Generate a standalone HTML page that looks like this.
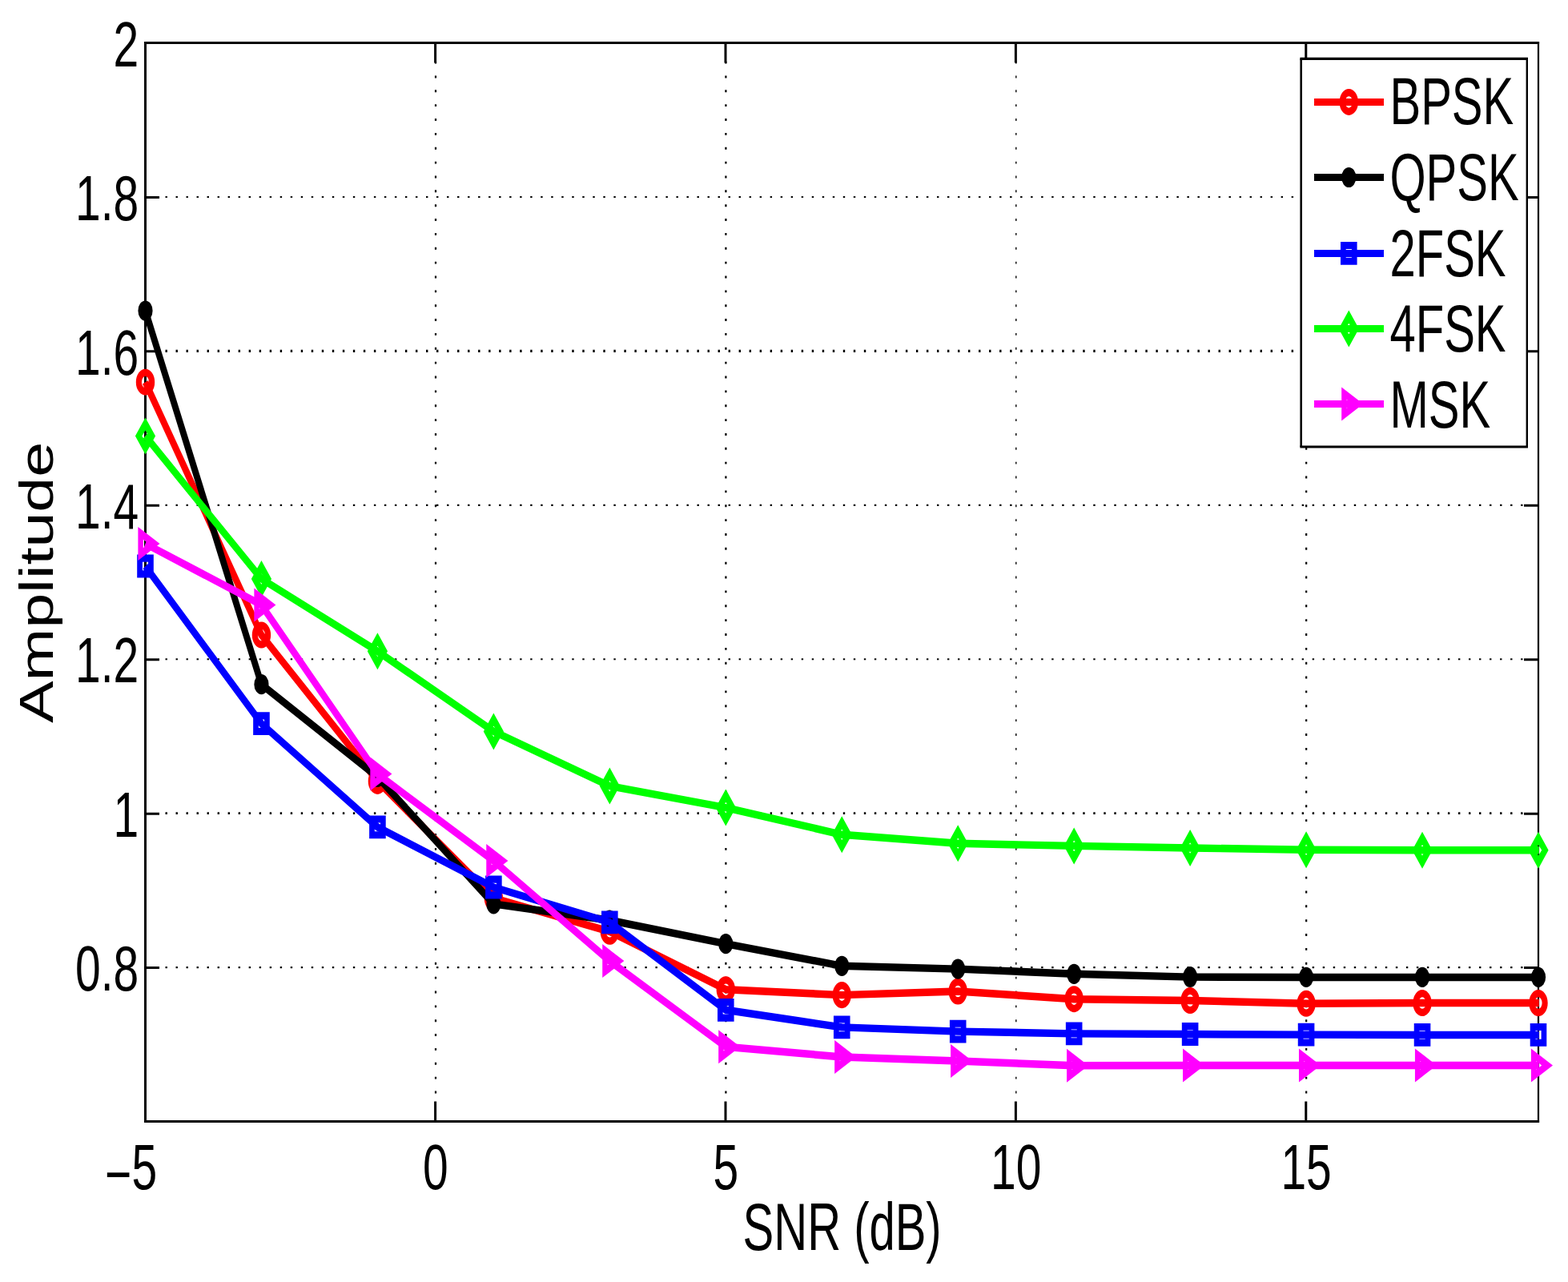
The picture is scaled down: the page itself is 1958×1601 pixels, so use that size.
<!DOCTYPE html>
<html lang="en">
<head>
<meta charset="utf-8">
<title>Amplitude vs SNR (dB)</title>
<style>
html,body{margin:0;padding:0;background:#fff;}
body{width:1958px;height:1601px;overflow:hidden;}
svg{display:block;}
text{font-family:"Liberation Sans",sans-serif;font-size:100px;fill:#000;}
</style>
</head>
<body>
<svg width="1958" height="1601" viewBox="0 0 1958 1601" role="img" aria-label="Amplitude versus SNR line chart">
<rect x="0" y="0" width="1958" height="1601" fill="#fff"/>
<g stroke="#000" fill="none">
<path d="M206.5 245.93H1904" stroke-width="2.1" stroke-dasharray="2.4 10.62"/>
<path d="M206.5 438.36H1904" stroke-width="3.2" stroke-dasharray="2.4 10.62"/>
<path d="M206.5 630.79H1904" stroke-width="2.2" stroke-dasharray="2.4 10.62"/>
<path d="M206.5 823.21H1904" stroke-width="2.1" stroke-dasharray="2.4 10.62"/>
<path d="M206.5 1015.64H1904" stroke-width="2.9" stroke-dasharray="2.4 10.62"/>
<path d="M206.5 1208.07H1904" stroke-width="2.3" stroke-dasharray="2.4 10.62"/>
<path d="M544 1365.45V73.5" stroke-width="2.2" stroke-dasharray="2.9 14.96"/>
<path d="M906.39 1365.45V73.5" stroke-width="2.2" stroke-dasharray="2.9 14.96"/>
<path d="M1268.79 1365.45V73.5" stroke-width="1.4" stroke-dasharray="2.9 14.96"/>
<path d="M1631.18 1365.45V73.5" stroke-width="2.2" stroke-dasharray="2.9 14.96"/>
</g>
<g stroke="#000" fill="none">
<path d="M180 53.5H1922.1" stroke-width="3"/>
<path d="M180 1400.5H1922.1" stroke-width="3"/>
<path d="M181.5 52V1402" stroke-width="3"/>
<path d="M1921 52V1402" stroke-width="2.2"/>
<path d="M181.5 246.43h17.5 M1921 246.43h-18 M181.5 438.86h17.5 M1921 438.86h-18 M181.5 631.29h17.5 M1921 631.29h-18 M181.5 823.71h17.5 M1921 823.71h-18 M181.5 1016.14h17.5 M1921 1016.14h-18 M181.5 1208.57h17.5 M1921 1208.57h-18" stroke-width="3"/>
<path d="M543.6 53.5v25 M543.6 1400.5v-25 M905.99 53.5v25 M905.99 1400.5v-25 M1268.39 53.5v25 M1268.39 1400.5v-25 M1630.78 53.5v25 M1630.78 1400.5v-25" stroke-width="3"/>
</g>
<g>
<text transform="matrix(0.57 0 0 0.8 173.3 82.7)" text-anchor="end">2</text>
<text transform="matrix(0.57 0 0 0.8 173.3 275.13)" text-anchor="end">1.8</text>
<text transform="matrix(0.57 0 0 0.8 173.3 467.56)" text-anchor="end">1.6</text>
<text transform="matrix(0.57 0 0 0.8 173.3 659.99)" text-anchor="end">1.4</text>
<text transform="matrix(0.57 0 0 0.8 173.3 852.41)" text-anchor="end">1.2</text>
<text transform="matrix(0.57 0 0 0.8 173.3 1044.84)" text-anchor="end">1</text>
<text transform="matrix(0.57 0 0 0.8 173.3 1237.27)" text-anchor="end">0.8</text>
<text transform="matrix(0.57 0 0 0.8 131.1 1485.2)" text-anchor="start"><tspan dy="10.5">−</tspan><tspan dy="-10.5">5</tspan></text>
<text transform="matrix(0.57 0 0 0.8 543.9 1485.2)" text-anchor="middle">0</text>
<text transform="matrix(0.57 0 0 0.8 906.29 1485.2)" text-anchor="middle">5</text>
<text transform="matrix(0.57 0 0 0.8 1268.69 1485.2)" text-anchor="middle">10</text>
<text transform="matrix(0.57 0 0 0.8 1631.08 1485.2)" text-anchor="middle">15</text>
<text transform="matrix(0.58 0 0 0.83 927.6 1561.4)" text-anchor="start">SNR (dB)</text>
<text transform="matrix(0 -0.79 0.59 0 65.9 903.1)">Amplitude</text>
</g>
<g>
<polyline transform="scale(2.5 3.0)" points="72.6,159.07 130.58,264.37 188.57,325.13 246.55,373.83 304.53,387.77 362.52,411.9 420.5,414.2 478.48,412.67 536.47,415.9 594.45,416.5 652.43,417.77 710.42,417.53 768.72,417.53" fill="none" stroke="#ff0000" stroke-width="3.15" stroke-linejoin="round"/>
<path d="M169.8 477.2A11.7 16.5 0 1 0 193.2 477.2A11.7 16.5 0 1 0 169.8 477.2ZM176.9 477.2A4.6 7.25 0 1 0 186.1 477.2A4.6 7.25 0 1 0 176.9 477.2Z" fill="#ff0000" fill-rule="evenodd"/>
<path d="M314.76 793.1A11.7 16.5 0 1 0 338.16 793.1A11.7 16.5 0 1 0 314.76 793.1ZM321.86 793.1A4.6 7.25 0 1 0 331.06 793.1A4.6 7.25 0 1 0 321.86 793.1Z" fill="#ff0000" fill-rule="evenodd"/>
<path d="M459.72 975.4A11.7 16.5 0 1 0 483.12 975.4A11.7 16.5 0 1 0 459.72 975.4ZM466.82 975.4A4.6 7.25 0 1 0 476.02 975.4A4.6 7.25 0 1 0 466.82 975.4Z" fill="#ff0000" fill-rule="evenodd"/>
<path d="M604.67 1121.5A11.7 16.5 0 1 0 628.08 1121.5A11.7 16.5 0 1 0 604.67 1121.5ZM611.77 1121.5A4.6 7.25 0 1 0 620.98 1121.5A4.6 7.25 0 1 0 611.77 1121.5Z" fill="#ff0000" fill-rule="evenodd"/>
<path d="M749.63 1163.3A11.7 16.5 0 1 0 773.03 1163.3A11.7 16.5 0 1 0 749.63 1163.3ZM756.73 1163.3A4.6 7.25 0 1 0 765.93 1163.3A4.6 7.25 0 1 0 756.73 1163.3Z" fill="#ff0000" fill-rule="evenodd"/>
<path d="M894.59 1235.7A11.7 16.5 0 1 0 917.99 1235.7A11.7 16.5 0 1 0 894.59 1235.7ZM901.69 1235.7A4.6 7.25 0 1 0 910.89 1235.7A4.6 7.25 0 1 0 901.69 1235.7Z" fill="#ff0000" fill-rule="evenodd"/>
<path d="M1039.55 1242.6A11.7 16.5 0 1 0 1062.95 1242.6A11.7 16.5 0 1 0 1039.55 1242.6ZM1046.65 1242.6A4.6 7.25 0 1 0 1055.85 1242.6A4.6 7.25 0 1 0 1046.65 1242.6Z" fill="#ff0000" fill-rule="evenodd"/>
<path d="M1184.51 1238A11.7 16.5 0 1 0 1207.91 1238A11.7 16.5 0 1 0 1184.51 1238ZM1191.61 1238A4.6 7.25 0 1 0 1200.81 1238A4.6 7.25 0 1 0 1191.61 1238Z" fill="#ff0000" fill-rule="evenodd"/>
<path d="M1329.47 1247.7A11.7 16.5 0 1 0 1352.87 1247.7A11.7 16.5 0 1 0 1329.47 1247.7ZM1336.57 1247.7A4.6 7.25 0 1 0 1345.77 1247.7A4.6 7.25 0 1 0 1336.57 1247.7Z" fill="#ff0000" fill-rule="evenodd"/>
<path d="M1474.42 1249.5A11.7 16.5 0 1 0 1497.83 1249.5A11.7 16.5 0 1 0 1474.42 1249.5ZM1481.53 1249.5A4.6 7.25 0 1 0 1490.72 1249.5A4.6 7.25 0 1 0 1481.53 1249.5Z" fill="#ff0000" fill-rule="evenodd"/>
<path d="M1619.38 1253.3A11.7 16.5 0 1 0 1642.78 1253.3A11.7 16.5 0 1 0 1619.38 1253.3ZM1626.48 1253.3A4.6 7.25 0 1 0 1635.68 1253.3A4.6 7.25 0 1 0 1626.48 1253.3Z" fill="#ff0000" fill-rule="evenodd"/>
<path d="M1764.34 1252.6A11.7 16.5 0 1 0 1787.74 1252.6A11.7 16.5 0 1 0 1764.34 1252.6ZM1771.44 1252.6A4.6 7.25 0 1 0 1780.64 1252.6A4.6 7.25 0 1 0 1771.44 1252.6Z" fill="#ff0000" fill-rule="evenodd"/>
<path d="M1909.3 1252.6A11.7 16.5 0 1 0 1932.7 1252.6A11.7 16.5 0 1 0 1909.3 1252.6ZM1916.4 1252.6A4.6 7.25 0 1 0 1925.6 1252.6A4.6 7.25 0 1 0 1916.4 1252.6Z" fill="#ff0000" fill-rule="evenodd"/>
</g>
<g>
<polyline transform="scale(2.5 3.0)" points="72.6,129.33 130.58,284.9 188.57,323.43 246.55,376.3 304.53,383.07 362.52,392.9 420.5,402.1 478.48,403.37 536.47,405.43 594.45,406.7 652.43,406.8 710.42,406.8 768.72,406.8" fill="none" stroke="#000000" stroke-width="3.15" stroke-linejoin="round"/>
<path d="M172.4 388A9.1 12.6 0 1 0 190.6 388A9.1 12.6 0 1 0 172.4 388Z" fill="#000000" fill-rule="evenodd"/>
<path d="M317.36 854.7A9.1 12.6 0 1 0 335.56 854.7A9.1 12.6 0 1 0 317.36 854.7Z" fill="#000000" fill-rule="evenodd"/>
<path d="M462.32 970.3A9.1 12.6 0 1 0 480.52 970.3A9.1 12.6 0 1 0 462.32 970.3Z" fill="#000000" fill-rule="evenodd"/>
<path d="M607.27 1128.9A9.1 12.6 0 1 0 625.48 1128.9A9.1 12.6 0 1 0 607.27 1128.9Z" fill="#000000" fill-rule="evenodd"/>
<path d="M752.23 1149.2A9.1 12.6 0 1 0 770.43 1149.2A9.1 12.6 0 1 0 752.23 1149.2Z" fill="#000000" fill-rule="evenodd"/>
<path d="M897.19 1178.7A9.1 12.6 0 1 0 915.39 1178.7A9.1 12.6 0 1 0 897.19 1178.7Z" fill="#000000" fill-rule="evenodd"/>
<path d="M1042.15 1206.3A9.1 12.6 0 1 0 1060.35 1206.3A9.1 12.6 0 1 0 1042.15 1206.3Z" fill="#000000" fill-rule="evenodd"/>
<path d="M1187.11 1210.1A9.1 12.6 0 1 0 1205.31 1210.1A9.1 12.6 0 1 0 1187.11 1210.1Z" fill="#000000" fill-rule="evenodd"/>
<path d="M1332.07 1216.3A9.1 12.6 0 1 0 1350.27 1216.3A9.1 12.6 0 1 0 1332.07 1216.3Z" fill="#000000" fill-rule="evenodd"/>
<path d="M1477.03 1220.1A9.1 12.6 0 1 0 1495.22 1220.1A9.1 12.6 0 1 0 1477.03 1220.1Z" fill="#000000" fill-rule="evenodd"/>
<path d="M1621.98 1220.4A9.1 12.6 0 1 0 1640.18 1220.4A9.1 12.6 0 1 0 1621.98 1220.4Z" fill="#000000" fill-rule="evenodd"/>
<path d="M1766.94 1220.4A9.1 12.6 0 1 0 1785.14 1220.4A9.1 12.6 0 1 0 1766.94 1220.4Z" fill="#000000" fill-rule="evenodd"/>
<path d="M1911.9 1220.4A9.1 12.6 0 1 0 1930.1 1220.4A9.1 12.6 0 1 0 1911.9 1220.4Z" fill="#000000" fill-rule="evenodd"/>
</g>
<g>
<polyline transform="scale(2.5 3.0)" points="72.6,235.67 130.58,301.23 188.57,344.3 246.55,369.33 304.53,383.93 362.52,420.43 420.5,427.63 478.48,429.37 536.47,430.3 594.45,430.5 652.43,430.7 710.42,430.8 768.72,430.8" fill="none" stroke="#0000ff" stroke-width="3.15" stroke-linejoin="round"/>
<path d="M171.2 692.6L191.8 692.6L191.8 721.4L171.2 721.4ZM177.9 701.7L185.1 701.7L185.1 712.3L177.9 712.3Z" fill="#0000ff" fill-rule="evenodd"/>
<path d="M316.16 889.3L336.76 889.3L336.76 918.1L316.16 918.1ZM322.86 898.4L330.06 898.4L330.06 909L322.86 909Z" fill="#0000ff" fill-rule="evenodd"/>
<path d="M461.12 1018.5L481.72 1018.5L481.72 1047.3L461.12 1047.3ZM467.82 1027.6L475.02 1027.6L475.02 1038.2L467.82 1038.2Z" fill="#0000ff" fill-rule="evenodd"/>
<path d="M606.08 1093.6L626.67 1093.6L626.67 1122.4L606.08 1122.4ZM612.77 1102.7L619.98 1102.7L619.98 1113.3L612.77 1113.3Z" fill="#0000ff" fill-rule="evenodd"/>
<path d="M751.03 1137.4L771.63 1137.4L771.63 1166.2L751.03 1166.2ZM757.73 1146.5L764.93 1146.5L764.93 1157.1L757.73 1157.1Z" fill="#0000ff" fill-rule="evenodd"/>
<path d="M895.99 1246.9L916.59 1246.9L916.59 1275.7L895.99 1275.7ZM902.69 1256L909.89 1256L909.89 1266.6L902.69 1266.6Z" fill="#0000ff" fill-rule="evenodd"/>
<path d="M1040.95 1268.5L1061.55 1268.5L1061.55 1297.3L1040.95 1297.3ZM1047.65 1277.6L1054.85 1277.6L1054.85 1288.2L1047.65 1288.2Z" fill="#0000ff" fill-rule="evenodd"/>
<path d="M1185.91 1273.7L1206.51 1273.7L1206.51 1302.5L1185.91 1302.5ZM1192.61 1282.8L1199.81 1282.8L1199.81 1293.4L1192.61 1293.4Z" fill="#0000ff" fill-rule="evenodd"/>
<path d="M1330.87 1276.5L1351.47 1276.5L1351.47 1305.3L1330.87 1305.3ZM1337.57 1285.6L1344.77 1285.6L1344.77 1296.2L1337.57 1296.2Z" fill="#0000ff" fill-rule="evenodd"/>
<path d="M1475.83 1277.1L1496.42 1277.1L1496.42 1305.9L1475.83 1305.9ZM1482.53 1286.2L1489.72 1286.2L1489.72 1296.8L1482.53 1296.8Z" fill="#0000ff" fill-rule="evenodd"/>
<path d="M1620.78 1277.7L1641.38 1277.7L1641.38 1306.5L1620.78 1306.5ZM1627.48 1286.8L1634.68 1286.8L1634.68 1297.4L1627.48 1297.4Z" fill="#0000ff" fill-rule="evenodd"/>
<path d="M1765.74 1278L1786.34 1278L1786.34 1306.8L1765.74 1306.8ZM1772.44 1287.1L1779.64 1287.1L1779.64 1297.7L1772.44 1297.7Z" fill="#0000ff" fill-rule="evenodd"/>
<path d="M1910.7 1278L1931.3 1278L1931.3 1306.8L1910.7 1306.8ZM1917.4 1287.1L1924.6 1287.1L1924.6 1297.7L1917.4 1297.7Z" fill="#0000ff" fill-rule="evenodd"/>
</g>
<g>
<polyline transform="scale(2.5 3.0)" points="72.6,181.47 130.58,240.97 188.57,271.1 246.55,304.47 304.53,327.2 362.52,336.2 420.5,347.43 478.48,351.1 536.47,352.13 594.45,353 652.43,353.73 710.42,353.9 768.72,353.9" fill="none" stroke="#00ff00" stroke-width="3.15" stroke-linejoin="round"/>
<path d="M181.5 521.4L194.1 544.4L181.5 567.4L168.9 544.4ZM181.5 537.6L185.7 544.4L181.5 551.2L177.3 544.4Z" fill="#00ff00" fill-rule="evenodd"/>
<path d="M326.46 699.9L339.06 722.9L326.46 745.9L313.86 722.9ZM326.46 716.1L330.66 722.9L326.46 729.7L322.26 722.9Z" fill="#00ff00" fill-rule="evenodd"/>
<path d="M471.42 790.3L484.02 813.3L471.42 836.3L458.82 813.3ZM471.42 806.5L475.62 813.3L471.42 820.1L467.22 813.3Z" fill="#00ff00" fill-rule="evenodd"/>
<path d="M616.38 890.4L628.98 913.4L616.38 936.4L603.77 913.4ZM616.38 906.6L620.58 913.4L616.38 920.2L612.17 913.4Z" fill="#00ff00" fill-rule="evenodd"/>
<path d="M761.33 958.6L773.93 981.6L761.33 1004.6L748.73 981.6ZM761.33 974.8L765.53 981.6L761.33 988.4L757.13 981.6Z" fill="#00ff00" fill-rule="evenodd"/>
<path d="M906.29 985.6L918.89 1008.6L906.29 1031.6L893.69 1008.6ZM906.29 1001.8L910.49 1008.6L906.29 1015.4L902.09 1008.6Z" fill="#00ff00" fill-rule="evenodd"/>
<path d="M1051.25 1019.3L1063.85 1042.3L1051.25 1065.3L1038.65 1042.3ZM1051.25 1035.5L1055.45 1042.3L1051.25 1049.1L1047.05 1042.3Z" fill="#00ff00" fill-rule="evenodd"/>
<path d="M1196.21 1030.3L1208.81 1053.3L1196.21 1076.3L1183.61 1053.3ZM1196.21 1046.5L1200.41 1053.3L1196.21 1060.1L1192.01 1053.3Z" fill="#00ff00" fill-rule="evenodd"/>
<path d="M1341.17 1033.4L1353.77 1056.4L1341.17 1079.4L1328.57 1056.4ZM1341.17 1049.6L1345.37 1056.4L1341.17 1063.2L1336.97 1056.4Z" fill="#00ff00" fill-rule="evenodd"/>
<path d="M1486.12 1036L1498.72 1059L1486.12 1082L1473.53 1059ZM1486.12 1052.2L1490.33 1059L1486.12 1065.8L1481.92 1059Z" fill="#00ff00" fill-rule="evenodd"/>
<path d="M1631.08 1038.2L1643.68 1061.2L1631.08 1084.2L1618.48 1061.2ZM1631.08 1054.4L1635.28 1061.2L1631.08 1068L1626.88 1061.2Z" fill="#00ff00" fill-rule="evenodd"/>
<path d="M1776.04 1038.7L1788.64 1061.7L1776.04 1084.7L1763.44 1061.7ZM1776.04 1054.9L1780.24 1061.7L1776.04 1068.5L1771.84 1061.7Z" fill="#00ff00" fill-rule="evenodd"/>
<path d="M1921 1038.7L1933.6 1061.7L1921 1084.7L1908.4 1061.7ZM1921 1054.9L1925.2 1061.7L1921 1068.5L1916.8 1061.7Z" fill="#00ff00" fill-rule="evenodd"/>
</g>
<g>
<polyline transform="scale(2.5 3.0)" points="72.6,226.33 130.58,251.8 188.57,322.2 246.55,358.33 304.53,400.03 362.52,435.77 420.5,440 478.48,441.67 536.47,443.57 594.45,443.47 652.43,443.47 710.42,443.47 768.72,443.47" fill="none" stroke="#ff00ff" stroke-width="3.15" stroke-linejoin="round"/>
<path d="M172.4 658L199.5 679L172.4 700ZM178.8 673.7L185.7 679L178.8 684.3Z" fill="#ff00ff" fill-rule="evenodd"/>
<path d="M317.36 734.4L344.46 755.4L317.36 776.4ZM323.76 750.1L330.66 755.4L323.76 760.7Z" fill="#ff00ff" fill-rule="evenodd"/>
<path d="M462.32 945.6L489.42 966.6L462.32 987.6ZM468.72 961.3L475.62 966.6L468.72 971.9Z" fill="#ff00ff" fill-rule="evenodd"/>
<path d="M607.27 1054L634.38 1075L607.27 1096ZM613.67 1069.7L620.58 1075L613.67 1080.3Z" fill="#ff00ff" fill-rule="evenodd"/>
<path d="M752.23 1179.1L779.33 1200.1L752.23 1221.1ZM758.63 1194.8L765.53 1200.1L758.63 1205.4Z" fill="#ff00ff" fill-rule="evenodd"/>
<path d="M897.19 1286.3L924.29 1307.3L897.19 1328.3ZM903.59 1302L910.49 1307.3L903.59 1312.6Z" fill="#ff00ff" fill-rule="evenodd"/>
<path d="M1042.15 1299L1069.25 1320L1042.15 1341ZM1048.55 1314.7L1055.45 1320L1048.55 1325.3Z" fill="#ff00ff" fill-rule="evenodd"/>
<path d="M1187.11 1304L1214.21 1325L1187.11 1346ZM1193.51 1319.7L1200.41 1325L1193.51 1330.3Z" fill="#ff00ff" fill-rule="evenodd"/>
<path d="M1332.07 1309.7L1359.17 1330.7L1332.07 1351.7ZM1338.47 1325.4L1345.37 1330.7L1338.47 1336Z" fill="#ff00ff" fill-rule="evenodd"/>
<path d="M1477.03 1309.4L1504.12 1330.4L1477.03 1351.4ZM1483.42 1325.1L1490.33 1330.4L1483.42 1335.7Z" fill="#ff00ff" fill-rule="evenodd"/>
<path d="M1621.98 1309.4L1649.08 1330.4L1621.98 1351.4ZM1628.38 1325.1L1635.28 1330.4L1628.38 1335.7Z" fill="#ff00ff" fill-rule="evenodd"/>
<path d="M1766.94 1309.4L1794.04 1330.4L1766.94 1351.4ZM1773.34 1325.1L1780.24 1330.4L1773.34 1335.7Z" fill="#ff00ff" fill-rule="evenodd"/>
<path d="M1911.9 1309.4L1939 1330.4L1911.9 1351.4ZM1918.3 1325.1L1925.2 1330.4L1918.3 1335.7Z" fill="#ff00ff" fill-rule="evenodd"/>
</g>
<g>
<rect x="1624.7" y="73.4" width="282.1" height="484.6" fill="#fff"/>
<g stroke="#000" fill="none">
<path d="M1623.4 73.4H1908 M1623.4 558H1908" stroke-width="3.1"/>
<path d="M1624.7 73.4V558" stroke-width="2.6"/>
<path d="M1906.8 73.4V558" stroke-width="2.4"/>
</g>
<path d="M1641 127.4H1728" fill="none" stroke="#ff0000" stroke-width="9"/>
<path d="M1672.6 127.4A11.7 16.5 0 1 0 1696 127.4A11.7 16.5 0 1 0 1672.6 127.4ZM1679.7 127.4A4.6 7.25 0 1 0 1688.9 127.4A4.6 7.25 0 1 0 1679.7 127.4Z" fill="#ff0000" fill-rule="evenodd"/>
<path d="M1641 221.5H1728" fill="none" stroke="#000000" stroke-width="9"/>
<path d="M1675.2 221.5A9.1 12.6 0 1 0 1693.4 221.5A9.1 12.6 0 1 0 1675.2 221.5Z" fill="#000000" fill-rule="evenodd"/>
<path d="M1641 316.4H1728" fill="none" stroke="#0000ff" stroke-width="9"/>
<path d="M1674 302L1694.6 302L1694.6 330.8L1674 330.8ZM1680.7 311.1L1687.9 311.1L1687.9 321.7L1680.7 321.7Z" fill="#0000ff" fill-rule="evenodd"/>
<path d="M1641 410.5H1728" fill="none" stroke="#00ff00" stroke-width="9"/>
<path d="M1684.3 387.5L1696.9 410.5L1684.3 433.5L1671.7 410.5ZM1684.3 403.7L1688.5 410.5L1684.3 417.3L1680.1 410.5Z" fill="#00ff00" fill-rule="evenodd"/>
<path d="M1641 504.4H1728" fill="none" stroke="#ff00ff" stroke-width="9"/>
<path d="M1675.2 483.4L1702.3 504.4L1675.2 525.4ZM1681.6 499.1L1688.5 504.4L1681.6 509.7Z" fill="#ff00ff" fill-rule="evenodd"/>
<text transform="matrix(0.58 0 0 0.84 1735.5 154.8)" text-anchor="start">BPSK</text>
<text transform="matrix(0.58 0 0 0.84 1735.5 249.9)" text-anchor="start">QPSK</text>
<text transform="matrix(0.58 0 0 0.84 1735.5 345.2)" text-anchor="start">2FSK</text>
<text transform="matrix(0.58 0 0 0.84 1735.5 439.1)" text-anchor="start">4FSK</text>
<text transform="matrix(0.58 0 0 0.84 1735.5 533.9)" text-anchor="start">MSK</text>
</g>
</svg>
</body>
</html>
